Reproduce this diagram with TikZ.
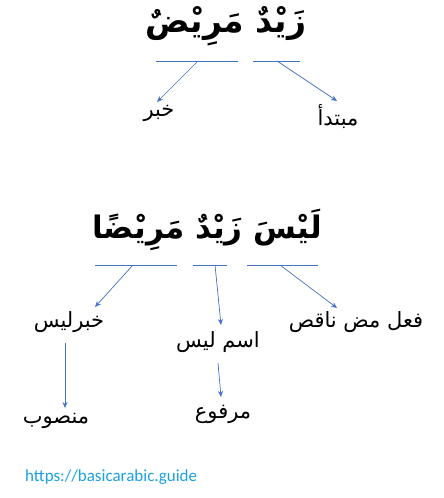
\documentclass[tikz,border=0pt]{standalone}
\usepackage{fontspec}
\setmainfont{Carlito}
\newfontfamily\arabicfont[Script=Arabic]{DejaVu Sans}
\TeXXeTstate=1
\usetikzlibrary{arrows.meta,calc}
\definecolor{lineblue}{HTML}{4472C4}
\definecolor{urlblue}{HTML}{1BA1E2}
\tikzset{
  ulinestyle/.style={draw=lineblue, line width=0.8pt},
  arrowstyle/.style={draw=lineblue, line width=0.7pt, -{Stealth[length=6pt,width=5pt]}},
  bigar/.style={inner sep=0pt, font=\arabicfont\bfseries\fontsize{33}{36}\selectfont},
  bigarb/.style={inner sep=0pt, font=\arabicfont\bfseries\fontsize{31}{34}\selectfont},
  labar/.style={inner sep=0pt, font=\arabicfont\fontsize{21}{24}\selectfont},
}
\begin{document}
\begin{tikzpicture}[x=1pt,y=-1pt]
\useasboundingbox (0,0) rectangle (444,498);
% first sentence
\node[bigar] (s1) at (226,26) {\beginR زَيْدٌ مَرِيْضٌ\endR};
\coordinate (u1a) at (156,61); \coordinate (u1b) at (238,61);
\coordinate (u2a) at (253,61); \coordinate (u2b) at (300,61);
\draw[ulinestyle] (u1a) -- (u1b);
\draw[ulinestyle] (u2a) -- (u2b);
\coordinate (u1m) at (198,61);
\coordinate (u2m) at (277,61);
\node[labar] (khabar) at (159,113) {\beginR خبر\endR};
\node[labar] (mubtada) at (338,117) {\beginR مبتدأ\endR};
\draw[arrowstyle] (u1m) -- ($(khabar.center)+(-2,-11)$);
\draw[arrowstyle] (u2m) -- ($(mubtada.center)+(-1,-16)$);
% second sentence
\node[bigarb] (s2) at (207,230) {\beginR لَيْسَ زَيْدٌ مَرِيْضًا\endR};
\coordinate (v1a) at (95,265); \coordinate (v1b) at (177,265);
\coordinate (v2a) at (193,265); \coordinate (v2b) at (227,265);
\coordinate (v3a) at (247,265); \coordinate (v3b) at (318,265);
\draw[ulinestyle] (v1a) -- (v1b);
\draw[ulinestyle] (v2a) -- (v2b);
\draw[ulinestyle] (v3a) -- (v3b);
\coordinate (v1m) at (133,265);
\coordinate (v2m) at (215,265);
\coordinate (v3m) at (280,265);
\node[labar] (khabarlaysa) at (69,322) {\beginR خبرليس\endR};
\node[labar] (ismlaysa) at (218,342) {\beginR اسم ليس\endR};
\node[labar] (fil) at (356,322) {\beginR فعل مض ناقص\endR};
\draw[arrowstyle] (v1m) -- ($(khabarlaysa.center)+(26,-15)$);
\draw[arrowstyle] (v2m) -- ($(ismlaysa.center)+(3,-17)$);
\draw[arrowstyle] (v3m) -- ($(fil.center)+(-19,-14)$);
\node[labar] (mansub) at (56,421) {\beginR منصوب\endR};
\node[labar] (marfu) at (223,414) {\beginR مرفوع\endR};
\draw[arrowstyle] ($(khabarlaysa.center)+(-4,21)$) -- ($(mansub.center)+(9,-13)$);
\draw[arrowstyle] ($(ismlaysa.center)+(0,21)$) -- ($(marfu.center)+(-2,-17)$);
% url
\node[inner sep=0pt, anchor=west, text=urlblue, font=\fontsize{17}{20}\selectfont] (url) at (25,477) {https://basicarabic.guide};
\end{tikzpicture}
\end{document}
